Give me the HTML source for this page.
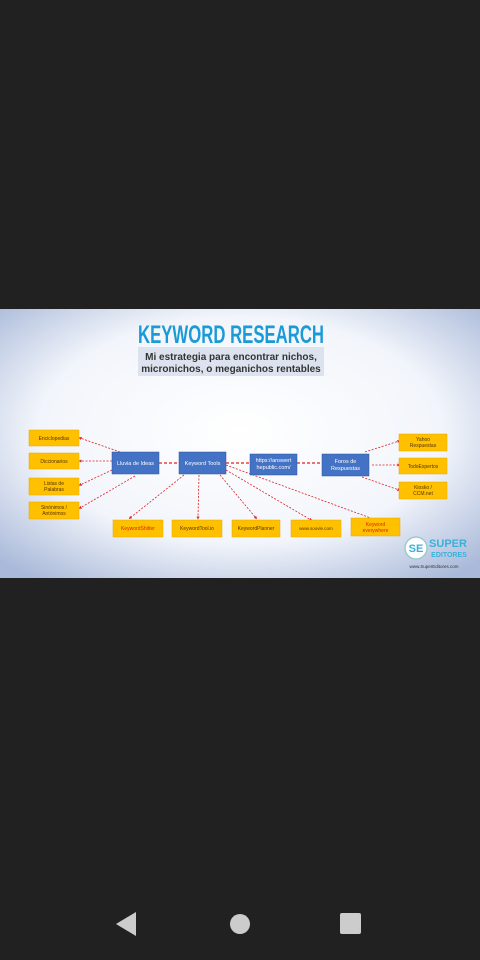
<!DOCTYPE html>
<html><head><style>
body{margin:0;width:480px;height:960px;background:#212121;overflow:hidden;font-family:"Liberation Sans",sans-serif}
</style></head><body>
<svg width="480" height="960" xmlns="http://www.w3.org/2000/svg" style="position:absolute;left:0;top:0">
<defs>
<radialGradient id="bg" cx="0.5" cy="0.45" r="0.7">
<stop offset="0" stop-color="#ffffff"/><stop offset="0.6" stop-color="#f2f5fb"/><stop offset="1" stop-color="#a9b9d9"/>
</radialGradient>
<marker id="a" markerWidth="4" markerHeight="4" refX="2" refY="2" orient="auto"><path d="M0,0L4,2L0,4z" fill="#d22"/></marker>
</defs>
<rect x="0" y="309" width="480" height="269" fill="url(#bg)"/>
<text x="231" y="343" text-anchor="middle" font-size="25" font-weight="bold" fill="#1a9ad6" textLength="186" lengthAdjust="spacingAndGlyphs">KEYWORD RESEARCH</text>
<rect x="138" y="347" width="186" height="29" fill="#dde3ee"/>
<text x="231" y="360" text-anchor="middle" font-size="10" font-weight="bold" fill="#333">Mi estrategia para encontrar nichos,</text>
<text x="231" y="372" text-anchor="middle" font-size="10" font-weight="bold" fill="#333">micronichos, o meganichos rentables</text>
<g stroke="#d22" stroke-width="0.8" stroke-dasharray="2,1.5" fill="none" marker-end="url(#a)">
<line x1="120" y1="452" x2="80" y2="438"/>
<line x1="112" y1="461" x2="80" y2="461"/>
<line x1="112" y1="470" x2="80" y2="485"/>
<line x1="135" y1="476" x2="80" y2="508"/>
<line x1="184" y1="475" x2="130" y2="518"/>
<line x1="199" y1="475" x2="198" y2="518"/>
<line x1="220" y1="475" x2="256" y2="518"/>
<line x1="226" y1="470" x2="311" y2="520"/>
<line x1="226" y1="465" x2="376" y2="520"/>
<line x1="365" y1="452" x2="399" y2="441"/>
<line x1="372" y1="465" x2="399" y2="465"/>
<line x1="362" y1="477" x2="399" y2="490"/>
</g>
<g stroke="#d22" stroke-width="1.2" stroke-dasharray="3,2">
<line x1="159" y1="463" x2="179" y2="463"/><line x1="226" y1="463" x2="250" y2="463"/><line x1="297" y1="463" x2="322" y2="463"/>
</g>
<g fill="#4472c4" stroke="#2f5597" stroke-width="0.5">
<rect x="112" y="452" width="47" height="22"/><rect x="179" y="452" width="47" height="22"/>
<rect x="250" y="454" width="47" height="21"/><rect x="322" y="454" width="47" height="22"/>
</g>
<g fill="#fff" font-size="5.5" text-anchor="middle">
<text x="135.5" y="465">Lluvia de Ideas</text><text x="202.5" y="465">Keyword Tools</text>
<text x="273.5" y="462">https://answert</text><text x="273.5" y="469">hepublic.com/</text>
<text x="345.5" y="463">Foros de</text><text x="345.5" y="470">Respuestas</text>
</g>
<g fill="#ffc000" stroke="#e6a800" stroke-width="0.5">
<rect x="29" y="430" width="50" height="16"/><rect x="29" y="453" width="50" height="16"/>
<rect x="29" y="478" width="50" height="17"/><rect x="29" y="502" width="50" height="17"/>
<rect x="399" y="434" width="48" height="17"/><rect x="399" y="458" width="48" height="16"/><rect x="399" y="482" width="48" height="17"/>
<rect x="113" y="520" width="50" height="17"/><rect x="172" y="520" width="50" height="17"/>
<rect x="232" y="520" width="48" height="17"/><rect x="291" y="520" width="50" height="17"/><rect x="351" y="518" width="49" height="18"/>
</g>
<g fill="#553300" font-size="5" text-anchor="middle">
<text x="54" y="440">Enciclopedias</text><text x="54" y="463">Diccionarios</text>
<text x="54" y="485">Listas de</text><text x="54" y="491">Palabras</text>
<text x="54" y="509">Sinónimos /</text><text x="54" y="515">Antónimos</text>
<text x="423" y="441">Yahoo</text><text x="423" y="447">Respuestas</text>
<text x="423" y="468">TodoExpertos</text>
<text x="423" y="489">Kiosko /</text><text x="423" y="495">CCM.net</text>
<text x="197" y="530">KeywordTool.io</text><text x="256" y="530">KeywordPlanner</text>
<text x="316" y="530" font-size="4.5">www.soovle.com</text>
</g>
<g fill="#e02000" font-size="5" text-anchor="middle">
<text x="138" y="530">KeywordShitter</text>
<text x="375.5" y="526">Keyword</text><text x="375.5" y="532">everywhere</text>
</g>
<circle cx="416" cy="548" r="11" fill="#fff" stroke="#9cc" stroke-width="1.5"/>
<text x="416" y="552" text-anchor="middle" font-size="11" font-weight="bold" fill="#3ab0d8">SE</text>
<text x="448" y="547" text-anchor="middle" font-size="11" font-weight="bold" fill="#3ab0d8">SUPER</text>
<text x="449" y="557" text-anchor="middle" font-size="7" font-weight="bold" fill="#3ab0d8">EDITORES</text>
<text x="434" y="568" text-anchor="middle" font-size="4.5" fill="#333">www.SuperEditores.com</text>
<path d="M116,924L136,912L136,936z" fill="#ccc"/>
<circle cx="240" cy="924" r="10" fill="#ccc"/>
<rect x="340" y="913" width="21" height="21" rx="2" fill="#ccc"/>
</svg>
</body></html>
